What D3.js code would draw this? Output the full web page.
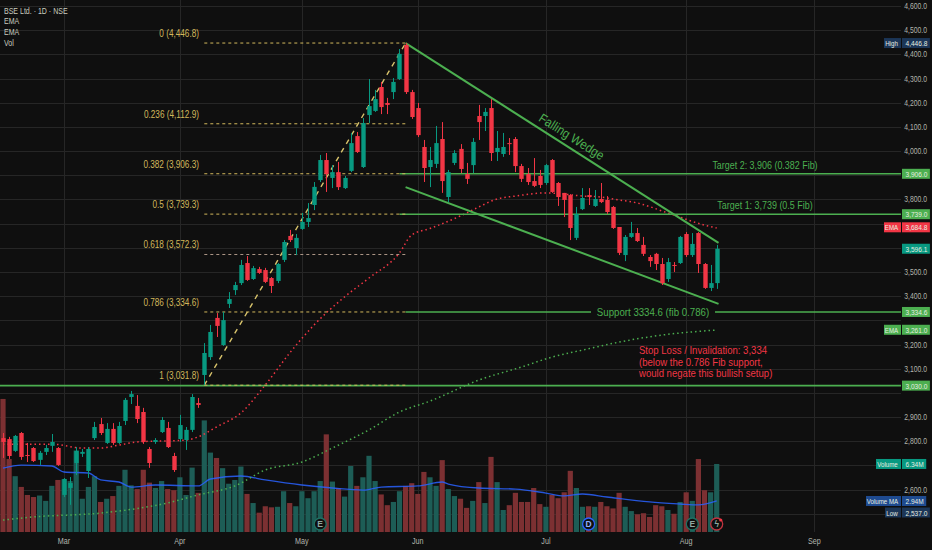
<!DOCTYPE html>
<html>
<head>
<meta charset="utf-8">
<script src="https://cdn.jsdelivr.net/npm/d3@7"></script>
<style>
  body { margin: 0; background: #0f0f0f; }
  svg text { font-family: "Liberation Sans", "Roboto", sans-serif; }
</style>
</head>
<body>
<div id="chart-area"></div>
<script>

// ---- data (daily candles, index 0 = mid Feb) ----
let opens = [2813,2809,2760,2834,2743,2772,2723,2756,2781,2772,
	2578,2607,2710,2748,2677,2813,2871,2793,2851,2793,
	2884,2983,2946,2921,2768,2797,2838,2855,2739,2809,
	2805,2847,2958,3074,3148,3310,3198,3368,3425,3454,
	3537,3471,3512,3508,3475,3463,3550,3649,3599,3678,
	3707,3777,3880,3963,3889,3913,3847,3918,4062,3934,
	4149,4166,4265,4199,4244,4298,4439,4244,4178,4017,
	3934,3947,4050,3810,3951,4009,3905,3942,4145,4145,
	4178,3996,3988,4033,4050,3938,3905,3876,3897,3868,
	3963,3868,3827,3818,3641,3760,3818,3773,3802,3798,
	3769,3686,3570,3645,3661,3612,3562,3575,3533,3471,
	3529,3537,3657,3570,3661,3533,3434,3454];
let highs = [2834,2818,2826,2838,2793,2776,2760,2785,2830,2776,
	2648,2652,2776,2768,2776,2880,2896,2875,2875,2880,
	2979,3008,2991,2938,2776,2813,2900,2880,2752,2909,
	2859,2995,2979,3206,3281,3330,3335,3417,3459,3550,
	3566,3525,3521,3517,3479,3537,3632,3674,3657,3744,
	3785,3872,3984,3992,3942,3955,3897,4075,4079,4137,
	4298,4253,4286,4220,4302,4422,4446.8,4253,4199,4046,
	4017,4104,4120,3922,4004,4029,3951,4054,4191,4178,
	4215,4083,4075,4054,4058,3947,3930,3971,3922,3947,
	3967,3872,3827,3822,3769,3847,3847,3839,3868,3814,
	3773,3686,3653,3707,3682,3645,3570,3579,3558,3558,
	3541,3649,3665,3661,3665,3537,3529,3612];
let lows = [2731,2727,2756,2723,2714,2714,2702,2743,2756,2698,
	2569,2537,2660,2735,2648,2805,2826,2789,2785,2789,
	2867,2954,2875,2789,2690,2789,2834,2772,2673,2797,
	2764,2838,2938,3032,3136,3231,3194,3351,3405,3446,
	3463,3467,3492,3454,3413,3454,3541,3624,3570,3674,
	3686,3756,3872,3831,3847,3839,3843,3913,3992,3930,
	4116,4162,4153,4153,4215,4294,4236,4133,4058,3872,
	3851,3930,3827,3789,3942,3909,3864,3909,4046,4083,
	3959,3959,3976,3984,3913,3872,3860,3851,3847,3860,
	3827,3773,3727,3632,3632,3756,3777,3769,3785,3740,
	3678,3570,3545,3641,3624,3566,3521,3508,3446,3459,
	3500,3533,3562,3562,3496,3430,3421,3430];
let closes = [2797,2739,2822,2735,2739,2718,2752,2772,2797,2702,
	2644,2627,2760,2756,2768,2859,2834,2851,2793,2863,
	2971,2995,2892,2797,2710,2805,2888,2776,2681,2867,
	2847,2983,2950,3165,3252,3277,3301,3388,3446,3529,
	3467,3516,3496,3459,3442,3533,3624,3632,3641,3707,
	3723,3852,3963,3905,3913,3851,3889,4033,3996,4116,
	4186,4215,4182,4191,4286,4402,4244,4141,4066,3930,
	3963,4033,3876,3913,3992,3926,3885,4038,4120,4162,
	3992,4013,4017,4029,3938,3885,3872,3856,3860,3942,
	3831,3810,3798,3682,3740,3806,3810,3802,3789,3748,
	3682,3579,3645,3661,3628,3575,3545,3533,3454,3541,
	3525,3645,3570,3616,3533,3434,3454,3596.1];
// volume in millions
let volumes = [12.4,6.8,5.2,4.2,3.45,3.26,3.4,2.9,4.3,4.85,
	4.9,4.75,7.6,3.1,4.2,5.2,2.8,3.1,3.35,4.3,
	5.8,4.35,4.0,5.8,4.6,4.1,4.75,4.0,3.9,5.1,
	3.45,6.0,3.65,10.4,7.4,6.9,5.95,4.5,4.85,6.1,
	3.55,2.7,1.8,2.4,2.3,2.35,3.8,2.7,2.4,3.8,
	3.15,3.8,4.75,9.1,4.7,4.1,3.3,6.15,4.3,5.1,
	7.1,4.75,3.5,2.5,2.8,3.8,4.3,4.55,3.55,5.6,
	5.1,4.3,6.7,4.0,3.35,3.1,2.25,2.9,4.65,2.7,
	7.0,4.65,2.05,2.5,3.65,2.8,2.8,4.1,2.6,2.35,
	3.45,3.15,3.7,5.7,4.1,2.35,2.4,2.35,2.8,2.4,
	2.2,3.65,2.35,1.95,1.65,1.75,1.4,2.5,2.4,2.05,
	1.7,2.8,3.7,2.9,6.8,3.9,3.7,6.34];

// indicator lines: [bar index, value]
let emaFast = [[0,2788],[4,2788],[8,2788],[13,2772],[16,2772],[19,2784],[22,2797],[30,2805],
	[32,2818],[35,2859],[39,2917],[43,3033],[47,3165],[51,3281],[56,3397],[60,3475],
	[65,3579],[67,3653],[70,3680],[75,3732],[78,3769],[81,3802],[84,3814],[89,3827],
	[92,3822],[95,3814],[98,3810],[101,3798],[104,3785],[109,3744],[115,3694],[117,3682]];
let emaSlow = [[0,2474],[5,2487],[16,2503],[27,2545],[32,2578],[38,2615],[43,2681],[49,2714],
	[54,2772],[60,2847],[65,2921],[70,2966],[78,3053],[85,3107],[90,3148],[95,3177],
	[101,3210],[108,3239],[117,3260]];
let volumeMA = [[0,5.96],[3,6.24],[8,6.15],[10,5.59],[14,5.5],[16,4.85],[19,4.66],[21,4.19],
	[25,4.38],[32,4.29],[34,4.94],[39,5.22],[43,4.85],[49,4.38],[54,4.1],[59,3.91],
	[62,4.19],[68,4.29],[72,4.66],[73,4.47],[78,4.1],[84,4.0],[89,3.63],[92,3.36],
	[95,3.54],[99,3.26],[106,2.8],[111,2.61],[114,2.52],[117,2.89]];

// axis labels
let monthLabels = ["Mar", "Apr", "May", "Jun", "Jul", "Aug", "Sep"];
let monthIndex = [10, 29, 49, 68, 89, 112, 133];
let priceTicks = [2500,2600,2700,2800,2900,3000,3100,3200,3300,3400,3500,
	3600,3700,3800,3900,4000,4100,4200,4300,4400,4500,4600];

// fib retracement, swing low -> swing high
let fibStart = {i: 33, p: 3031.8}, fibEnd = {i: 66, p: 4446.8};
let fibRatios = [0, 0.236, 0.382, 0.5, 0.618, 0.786, 1];
let fibPrices = [4446.8, 4112.9, 3906.3, 3739.3, 3572.3, 3334.6, 3031.8];

// drawn levels
let targets = [{p: 3906, text: "Target 2: 3,906 (0.382 Fib)"}, {p: 3739, text: "Target 1: 3,739 (0.5 Fib)"}];
let supportLevel = 3334.6, baseLevel = 3030;
let wedgeUpper = [[66, 4446.8], [117.3, 3620]];
let wedgeLower = [[66, 3851], [117.3, 3368]];

let width = 932, height = 550;
let plotRight = 901, volBase = 532;

let GREEN = "#089981", RED = "#f23645", LINE = "#4caf50";

// squeeze a text horizontally (the chart uses a narrow UI font)
function condense(sel, k) {
	sel.each(function () {
		let len = this.getComputedTextLength();
		d3.select(this).attr("textLength", len * k).attr("lengthAdjust", "spacingAndGlyphs");
	});
	return sel;
}

let svg = d3.select("#chart-area").append("svg")
	.attr("width", width)
	.attr("height", height)
	.style("display", "block");

svg.append("rect").attr("width", width).attr("height", height).attr("fill", "#0f0f0f");

let x = d3.scaleLinear().domain([0, 117]).range([3, 3 + 117 * 6.1]);
let y = d3.scaleLinear().domain([2600, 4600]).range([489.6, 6]);
let yv = d3.scaleLinear().domain([0, 10]).range([volBase, volBase - 107.3]);

// grid
svg.append("g").selectAll("line").data(priceTicks).enter().append("line")
	.attr("x1", 0).attr("x2", plotRight)
	.attr("y1", d => Math.round(y(d)) + 0.5).attr("y2", d => Math.round(y(d)) + 0.5)
	.attr("stroke", "#262626");
svg.append("g").selectAll("line").data(monthIndex).enter().append("line")
	.attr("x1", d => Math.round(x(d)) + 0.5).attr("x2", d => Math.round(x(d)) + 0.5)
	.attr("y1", 0).attr("y2", volBase)
	.attr("stroke", "#262626");

let bars = d3.range(opens.length);
let isUp = i => closes[i] >= opens[i];

// volume
svg.append("g").selectAll("rect").data(bars).enter().append("rect")
	.attr("x", i => x(i) - 2.6)
	.attr("width", 5.2)
	.attr("y", i => yv(volumes[i]))
	.attr("height", i => volBase - yv(volumes[i]))
	.attr("fill", i => isUp(i) ? "#1d5d56" : "#7c3032");

let lineV = d3.line().x(d => x(d[0])).y(d => yv(d[1])).curve(d3.curveMonotoneX);
svg.append("path").attr("d", lineV(volumeMA))
	.attr("fill", "none").attr("stroke", "#2962ff").attr("stroke-opacity", 0.85).attr("stroke-width", 1.3);

// EMAs
let lineP = d3.line().x(d => x(d[0])).y(d => y(d[1])).curve(d3.curveMonotoneX);
svg.append("path").attr("d", lineP(emaSlow))
	.attr("fill", "none").attr("stroke", LINE).attr("stroke-width", 1.5).attr("stroke-dasharray", "1.5,3");
svg.append("path").attr("d", lineP(emaFast))
	.attr("fill", "none").attr("stroke", RED).attr("stroke-width", 1.5).attr("stroke-dasharray", "1.5,3");

// horizontal green levels
svg.append("line").attr("x1", 0).attr("x2", plotRight)
	.attr("y1", y(baseLevel)).attr("y2", y(baseLevel))
	.attr("stroke", LINE).attr("stroke-width", 1.6);
targets.forEach(t => {
	svg.append("line").attr("x1", x(65)).attr("x2", plotRight)
		.attr("y1", y(t.p)).attr("y2", y(t.p))
		.attr("stroke", LINE).attr("stroke-width", 1.6);
	condense(svg.append("text").attr("x", 765).attr("y", y(t.p) - 5)
		.attr("text-anchor", "middle").attr("font-size", 10.5)
		.attr("fill", LINE).text(t.text), 0.85);
});
// support with text in the middle of the ray
svg.append("line").attr("x1", x(66)).attr("x2", 591)
	.attr("y1", y(supportLevel)).attr("y2", y(supportLevel))
	.attr("stroke", LINE).attr("stroke-width", 1.6);
svg.append("line").attr("x1", 715).attr("x2", plotRight)
	.attr("y1", y(supportLevel)).attr("y2", y(supportLevel))
	.attr("stroke", LINE).attr("stroke-width", 1.6);
condense(svg.append("text").attr("x", 653).attr("y", y(supportLevel) + 3.8)
	.attr("text-anchor", "middle").attr("font-size", 10.5)
	.attr("fill", LINE).text("Support 3334.6 (fib 0.786)"), 0.92);

// fib retracement
let fibColor = "#d2b85c";
svg.append("g").selectAll("line").data(fibPrices).enter().append("line")
	.attr("x1", x(fibStart.i)).attr("x2", x(fibEnd.i))
	.attr("y1", d => y(d)).attr("y2", d => y(d))
	.attr("stroke", (d, k) => fibRatios[k] === 0.618 ? "#ad9686" : fibColor)
	.attr("stroke-width", 1).attr("stroke-dasharray", "3,3");
condense(svg.append("g").selectAll("text").data(fibPrices).enter().append("text")
	.attr("x", 199).attr("y", d => y(d) - 6)
	.attr("text-anchor", "end").attr("font-size", 10)
	.attr("fill", fibColor)
	.text((d, k) => fibRatios[k] + " (" + d3.format(",.1f")(d) + ")"), 0.82);
svg.append("line")
	.attr("x1", x(fibStart.i)).attr("y1", y(fibStart.p))
	.attr("x2", x(fibEnd.i)).attr("y2", y(fibEnd.p))
	.attr("stroke", "#d9c46c").attr("stroke-width", 1.4).attr("stroke-dasharray", "5,5");

// falling wedge
[wedgeUpper, wedgeLower].forEach(w => {
	svg.append("line")
		.attr("x1", x(w[0][0])).attr("y1", y(w[0][1]))
		.attr("x2", x(w[1][0])).attr("y2", y(w[1][1]))
		.attr("stroke", LINE).attr("stroke-width", 2);
});
let wx1 = x(wedgeUpper[0][0]), wy1 = y(wedgeUpper[0][1]),
	wx2 = x(wedgeUpper[1][0]), wy2 = y(wedgeUpper[1][1]);
let ang = Math.atan2(wy2 - wy1, wx2 - wx1) * 180 / Math.PI;
let tx = 566, ty = wy1 + (tx - wx1) * (wy2 - wy1) / (wx2 - wx1);
condense(svg.append("text")
	.attr("transform", "translate(" + tx + "," + ty + ") rotate(" + ang + ")")
	.attr("y", -6).attr("text-anchor", "middle")
	.attr("font-size", 13).attr("fill", LINE)
	.text("Falling Wedge"), 0.9);

// candles
let candles = svg.append("g").selectAll("g").data(bars).enter().append("g");
candles.append("line")
	.attr("x1", i => Math.round(x(i)) + 0.5).attr("x2", i => Math.round(x(i)) + 0.5)
	.attr("y1", i => y(highs[i])).attr("y2", i => y(lows[i]))
	.attr("stroke", i => isUp(i) ? GREEN : RED);
candles.append("rect")
	.attr("x", i => Math.round(x(i)) + 0.5 - 2.2)
	.attr("width", 4.4)
	.attr("y", i => y(Math.max(opens[i], closes[i])))
	.attr("height", i => Math.max(1, y(Math.min(opens[i], closes[i])) - y(Math.max(opens[i], closes[i]))))
	.attr("fill", i => isUp(i) ? GREEN : RED);

// stop loss note
let stopLines = ["Stop Loss / Invalidation: 3,334", "(below the 0.786 Fib support,", "would negate this bullish setup)"];
condense(svg.append("g").selectAll("text").data(stopLines).enter().append("text")
	.attr("x", 639).attr("y", (d, k) => 354 + k * 11.5)
	.attr("font-size", 10.5).attr("fill", RED).text(d => d), 0.91);

// event markers on the volume pane
let markers = [{i: 52, t: "E", c: "#1f6f62"}, {i: 96, t: "D", c: "#2962ff"}, {i: 113, t: "E", c: "#1f6f62"}, {i: 117, t: "\u03DF", c: "#c0333f"}];
let mk = svg.append("g").selectAll("g").data(markers).enter().append("g")
	.attr("transform", d => "translate(" + x(d.i) + ",524)");
mk.append("circle").attr("r", 6).attr("fill", "#0f0f0f").attr("stroke", d => d.c).attr("stroke-width", 1.3);
mk.append("text").attr("y", 3).attr("text-anchor", "middle").attr("font-size", 8.5)
	.attr("font-weight", "bold").attr("fill", d => d.c === "#2962ff" ? "#8fb0ff" : "#8fa8a0").text(d => d.t);
svg.append("circle").attr("cx", x(117) + 4).attr("cy", 520).attr("r", 1.6).attr("fill", RED);

// price-axis tags (drawn last so they sit on top)
let tags = [
	{y: y(4446.8), v: "4,446.8", bg: "#1c3657", name: "High", w: 17},
	{y: y(3906), v: "3,906.0", bg: LINE},
	{y: y(3739), v: "3,739.0", bg: LINE},
	{y: y(3684.8), v: "3,684.8", bg: RED, name: "EMA", w: 17},
	{y: y(3596.1), v: "3,596.1", bg: GREEN},
	{y: y(3334.6), v: "3,334.6", bg: LINE},
	{y: y(3261), v: "3,261.0", bg: LINE, name: "EMA", w: 17},
	{y: y(3030), v: "3,030.0", bg: LINE},
	{y: yv(6.34), v: "6.34M", bg: GREEN, name: "Volume", w: 25},
	{y: 501, v: "2.94M", bg: "#1e4a8f", name: "Volume MA", w: 35},
	{y: 512.5, v: "2,537.0", bg: "#1c3657", name: "Low", w: 16}
];

// right price axis, ticks that collide with a tag are hidden
let shownTicks = priceTicks.filter(d => d >= 2600 && tags.every(t => Math.abs(y(d) - t.y) > 9));
condense(svg.append("g").selectAll("text").data(shownTicks).enter().append("text")
	.attr("x", 927).attr("y", d => y(d) + 3)
	.attr("text-anchor", "end").attr("font-size", 8.5)
	.attr("fill", "#b2b5ac")
	.text(d => d3.format(",.1f")(d)), 0.8);

tags.forEach(d => {
	let g = svg.append("g").attr("transform", "translate(0," + d.y + ")");
	let box = g.append("rect").attr("x", 902).attr("y", -5).attr("height", 10).attr("fill", d.bg);
	let t = condense(g.append("text").attr("x", 905.5).attr("y", 3)
		.attr("font-size", 8).attr("fill", "#e6eee0").text(d.v), 0.82);
	box.attr("width", (+t.attr("textLength")) + 6);
	if (d.name) {
		g.append("rect").attr("x", 901 - d.w).attr("y", -5).attr("width", d.w).attr("height", 10).attr("fill", d.bg);
		condense(g.append("text").attr("x", 900 - d.w / 2).attr("y", 3).attr("text-anchor", "middle")
			.attr("font-size", 7.5).attr("fill", "#e6eee0").text(d.name), 0.82);
	}
});

// bottom time axis
condense(svg.append("g").selectAll("text").data(monthLabels).enter().append("text")
	.attr("x", (d, k) => x(monthIndex[k])).attr("y", 544)
	.attr("text-anchor", "middle").attr("font-size", 9)
	.attr("fill", "#b2b5ac").text(d => d), 0.8);

// legend
let legend = ["BSE Ltd. \u00B7 1D \u00B7 NSE", "EMA", "EMA", "Vol"];
condense(svg.append("g").selectAll("text").data(legend).enter().append("text")
	.attr("x", 4).attr("y", (d, k) => 13.5 + k * 10.8)
	.attr("font-size", 9).attr("fill", "#c9ccbf").text(d => d), 0.78);

</script>
</body>
</html>
